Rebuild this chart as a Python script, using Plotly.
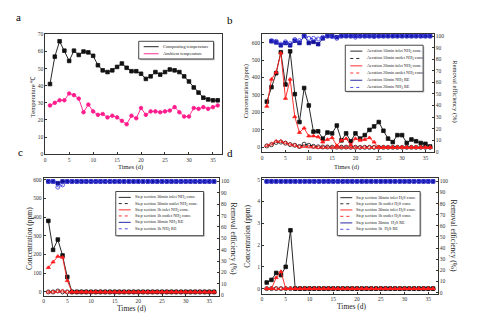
import plotly.graph_objects as go

W, H = 483, 329

days = list(range(1, 37))

# Panel a: temperatures
comp_temp = [41, 57, 66, 60.5, 54.5, 60.5, 58, 60, 59.5, 57.5, 52, 49, 48, 49, 51, 53, 50.5, 48.5,
             48.5, 47, 44, 45.5, 48, 46.5, 48, 49.5, 49, 48, 45.5, 42.5, 39, 36, 33, 32, 31.5, 31.5]
amb_temp = [28.5, 30, 31.5, 31.5, 35.5, 34.5, 32.5, 24.5, 29, 25, 23, 23.5, 21.5, 22.5, 21.5, 19.5, 17.5, 22.5,
            21, 27, 23, 25, 25, 24.5, 25, 25.5, 27.5, 24.5, 22, 22, 27, 26.5, 27.5, 26.5, 27.5, 28.5]

# Panel b: aeration NH3
b_in10 = [262, 345, 425, 545, 360, 550, 305, 145, 340, 240, 90, 92, 50, 85, 80, 125, 40, 80,
          35, 80, 50, 70, 100, 120, 145, 95, 50, 30, 70, 70, 25, 45, 35, 25, 20, 5]
b_out10 = [8, 15, 28, 30, 24, 16, 12, 5, 18, 12, 6, 3, 2, 2, 1, 1, 1, 1,
           0, 0, 0, 0, 0, 0, 0, 0, 0, 0, 0, 0, 0, 0, 0, 0, 0, 0]
b_in20 = [235, 390, 430, 540, 280, 390, 175, 85, 110, 65, 65, 60, 30, 45, 55, 10, 40, 50,
          15, 50, 40, 45, 55, 30, 0, 0, 0, 0, 0, 0, 0, 0, 0, 0, 0, 0]
b_out20 = [10, 20, 35, 35, 26, 18, 12, 3, 5, 3, 2, 0, 0, 0, 0, 0, 0, 0,
           0, 0, 0, 0, 0, 0, 0, 0, 0, 0, 0, 0, 0, 0, 0, 0, 0, 0]
b_re10 = [None, 95.5, 94.5, 92, 94, 92, 96, 94, 100, 94, 95, 93, 98, 100, 100, 99, 100, 100,
          100, 100, 100, 100, 100, 100, 100, 100, 100, 100, 100, 100, 100, 100, 100, 100, 100, 100]
b_re20 = [None, 96, 95.5, 93, 95, 93.5, 97, 96, 100.5, 98, 98, 97.5, 99, 100, 99.5, 98, 100, 100,
          100, 99, 100, 100, 100, 99.5, 100, 100, 100, 100, 100, 100, 100, 100, 100, 100, 100, 100]

# Panel c: step section NH3
c_in30 = [380, 225, 280, 195, 80] + [0] * 31
c_out30 = [0, 0, 5, 0] + [0] * 32
c_in1h = [130, 160, 190, 185, 60] + [0] * 31
c_out1h = [0, 0, 3, 5] + [0] * 32
c_re30 = [100, 100, 98.5, 100] + [100] * 32
c_re1h = [100, 100, 95, 97] + [100] * 32

# Panel d: step section H2S
d_in30 = [0.28, 0.4, 0.72, 0.62, 1.0, 2.68] + [0] * 30
d_out1h = [0] * 36
d_in30b = [0, 0, 0.5, 0.78] + [0] * 32
d_out1hb = [0] * 36
d_re30 = [100] * 36
d_re1h = [100] * 36

legend_a = ["Composting temperature", "Ambient temperature"]
legend_b = ["Aeration 10min inlet NH<sub>3</sub> conc.", "Aeration 10min outlet NH<sub>3</sub> conc.",
            "Aeration 20min inlet NH<sub>3</sub> conc.", "Aeration 20min outlet NH<sub>3</sub> conc.",
            "Aeration 10min NH<sub>3</sub> RE", "Aeration 20min NH<sub>3</sub> RE"]
legend_c = ["Step section 30min inlet NH<sub>3</sub> conc.", "Step section 30min outlet NH<sub>3</sub> conc.",
            "Step section 1h inlet NH<sub>3</sub> conc.", "Step section 1h outlet NH<sub>3</sub> conc.",
            "Step section 30min NH<sub>3</sub> RE", "Step section 1h NH<sub>3</sub> RE"]
legend_d = ["Step section 30min inlet H<sub>2</sub>S conc.", "Step section 1h outlet H<sub>2</sub>S conc.",
            "Step section 30min inlet H<sub>2</sub>S conc.", "Step section 1h outlet H<sub>2</sub>S conc.",
            "Step section 30min  H<sub>2</sub>S RE", "Step section 1h  H<sub>2</sub>S RE"]

FONT = "Liberation Serif, Times New Roman, serif"
BLACK = "#111111"
RED = "#ff1a1a"
PINK = "#ff1a8c"
NAVY = "#10109a"
BLUE = "#3a3ae0"
DASH = "3px,2px"


def dx(a, b):
    return [a / W, b / W]


def dy(a, b):
    return [1 - b / H, 1 - a / H]


fig = go.Figure()

ST = {
    "in_k": (BLACK, "solid", "square"),
    "out_k": (BLACK, DASH, "circle-open"),
    "in_r": (RED, "solid", "triangle-up"),
    "out_r": (RED, DASH, "triangle-up-open"),
    "re_n": (NAVY, "solid", "square"),
    "re_b": (BLUE, DASH, "circle-open"),
    "pink": (PINK, "solid", "circle"),
}


def add(x, y, xa, ya, style, name):
    c, d, s = ST[style]
    fig.add_trace(go.Scatter(
        x=x, y=y, xaxis=xa, yaxis=ya, mode="lines+markers", name=name, showlegend=False,
        line=dict(color=c, width=0.9, dash=d),
        marker=dict(color=c, symbol=s, size=4 if "open" in s else 3.6, line=dict(color=c, width=0.8)),
        cliponaxis=False, connectgaps=False))


# a
add(days, comp_temp, "x", "y", "in_k", legend_a[0])
add(days, amb_temp, "x", "y", "pink", legend_a[1])
# b
add(days, b_in10, "x2", "y2", "in_k", legend_b[0])
add(days, b_out10, "x2", "y2", "out_k", legend_b[1])
add(days, b_in20, "x2", "y2", "in_r", legend_b[2])
add(days, b_out20, "x2", "y2", "out_r", legend_b[3])
add(days, b_re10, "x2", "y3", "re_n", legend_b[4])
add(days, b_re20, "x2", "y3", "re_b", legend_b[5])
# c
add(days, c_in30, "x3", "y4", "in_k", legend_c[0])
add(days, c_out30, "x3", "y4", "out_k", legend_c[1])
add(days, c_in1h, "x3", "y4", "in_r", legend_c[2])
add(days, c_out1h, "x3", "y4", "out_r", legend_c[3])
add(days, c_re30, "x3", "y5", "re_n", legend_c[4])
add(days, c_re1h, "x3", "y5", "re_b", legend_c[5])
# d
add(days, d_in30, "x4", "y6", "in_k", legend_d[0])
add(days, d_out1h, "x4", "y6", "out_k", legend_d[1])
add(days, d_in30b, "x4", "y6", "in_r", legend_d[2])
add(days, d_out1hb, "x4", "y6", "out_r", legend_d[3])
add(days, d_re30, "x4", "y7", "re_n", legend_d[4])
add(days, d_re1h, "x4", "y7", "re_b", legend_d[5])

AX = dict(showgrid=False, zeroline=False, showline=True, linecolor="#333", linewidth=0.9,
          ticks="inside", ticklen=2, tickwidth=0.7, tickcolor="#333",
          tickfont=dict(family=FONT, size=5.5, color="#333"))


def xa(dom, anchor, rng):
    return dict(AX, domain=dom, anchor=anchor, range=rng, tickvals=[0, 5, 10, 15, 20, 25, 30, 35], mirror=True)


fig.update_layout(
    width=W, height=H, margin=dict(l=0, r=0, t=0, b=0),
    paper_bgcolor="white", plot_bgcolor="rgba(0,0,0,0)", showlegend=False,
    xaxis=xa(dx(44.3, 221), "y", [0, 36.8]),
    yaxis=dict(AX, domain=dy(32, 154), anchor="x", range=[0, 70], dtick=10, mirror=True),
    xaxis2=xa(dx(261.7, 433.7), "y2", [0, 36.8]),
    yaxis2=dict(AX, domain=dy(32, 152), anchor="x2", range=[-28, 647], tickvals=[0, 100, 200, 300, 400, 500, 600]),
    yaxis3=dict(AX, overlaying="y2", anchor="x2", side="right", range=[-0.4, 101.4], dtick=10),
    xaxis3=xa(dx(42.7, 218.3), "y4", [0, 37]),
    yaxis4=dict(AX, domain=dy(178.3, 298), anchor="x3", range=[-19.4, 609], tickvals=[0, 100, 200, 300, 400, 500, 600]),
    yaxis5=dict(AX, overlaying="y4", anchor="x3", side="right", range=[-0.3, 103], dtick=10),
    xaxis4=xa(dx(261.5, 437.7), "y6", [0, 37]),
    yaxis6=dict(AX, domain=dy(178.3, 296), anchor="x4", range=[-0.23, 5.08], dtick=1),
    yaxis7=dict(AX, overlaying="y6", anchor="x4", side="right", range=[-0.9, 103], dtick=10),
    xaxis5=dict(domain=[0, 1], range=[0, W], visible=False, anchor="y8", fixedrange=True),
    yaxis8=dict(domain=[0, 1], range=[H, 0], visible=False, anchor="x5", fixedrange=True),
)

ann = []


def text(x, y, s, size=7, angle=0, xanchor="center", color="#222"):
    ann.append(dict(x=x, y=y, xref="x5", yref="y8", text=s, showarrow=False, textangle=angle,
                    xanchor=xanchor, yanchor="middle", font=dict(family=FONT, size=size, color=color)))


# panel letters
text(18, 14, "a", 11, color="#000")
text(229, 17, "b", 11, color="#000")
text(20, 152, "c", 11, color="#000")
text(229, 153, "d", 11, color="#000")

# axis titles
text(31, 95, "Temperature ℃", 6.5, -90)
text(130, 167, "Times (d)", 6.5)
text(245.5, 90, "Concentration (ppm)", 6.5, -90)
text(455, 90, "Removal efficiency (%)", 6.5, 90)
text(346, 167, "Times (d)", 6.5)
text(28.5, 240, "Concentration (ppm)", 7.5, -90)
text(232.5, 240, "Removal efficiency (%)", 7.5, 90)
text(131.5, 311, "Times (d)", 7.5)
text(247.5, 237, "Concentration (ppm)", 7.5, -90)
text(453, 237, "Removal efficiency (%)", 7.5, 90)
text(352, 309, "Times (d)", 7.5)

shapes = []


def legend(box, rows, styles, lx0, lx1, tx, fsize):
    x0, y0, x1, y1 = box
    shapes.append(dict(type="rect", xref="x5", yref="y8", x0=x0 + 1.2, y0=y0 + 1.2, x1=x1 + 1.2, y1=y1 + 1.2,
                       line=dict(width=0), fillcolor="#bbbbbb"))
    shapes.append(dict(type="rect", xref="x5", yref="y8", x0=x0, y0=y0, x1=x1, y1=y1,
                       line=dict(color="#333", width=0.9), fillcolor="white"))
    for (yy, label), st in zip(rows, styles):
        c, d, s = ST[st]
        shapes.append(dict(type="line", xref="x5", yref="y8", x0=lx0, x1=lx1, y0=yy, y1=yy,
                           line=dict(color=c, width=0.9, dash="dot" if d != "solid" else "solid")))
        fig.add_trace(go.Scatter(x=[(lx0 + lx1) / 2], y=[yy], xaxis="x5", yaxis="y8", mode="markers",
                                 showlegend=False, hoverinfo="skip", cliponaxis=False,
                                 marker=dict(color=c, symbol=s, size=4, line=dict(color=c, width=0.8))))
        text(tx, yy, label, fsize, xanchor="left")


legend((138, 39, 213, 57), list(zip([44.5, 51.7], legend_a)), ["in_k", "pink"], 143, 158, 160, 4.6)
legend((345, 43, 423, 90), list(zip([49, 56.5, 64, 71.3, 78.7, 86], legend_b)),
       ["in_k", "out_k", "in_r", "out_r", "re_n", "re_b"], 350, 362, 364.5, 4.3)
legend((115, 192, 203, 237), list(zip([198, 204.3, 210.7, 216.9, 223.4, 230], legend_c)),
       ["in_k", "out_k", "in_r", "out_r", "re_n", "re_b"], 118, 130, 132.5, 4.3)
legend((337, 192, 420, 237), list(zip([198.3, 204.5, 210.8, 217.3, 224, 230.5], legend_d)),
       ["in_k", "out_k", "in_r", "out_r", "re_n", "re_b"], 340, 352, 354, 4.3)

fig.update_layout(annotations=ann, shapes=shapes)
fig.write_html("out.html")
